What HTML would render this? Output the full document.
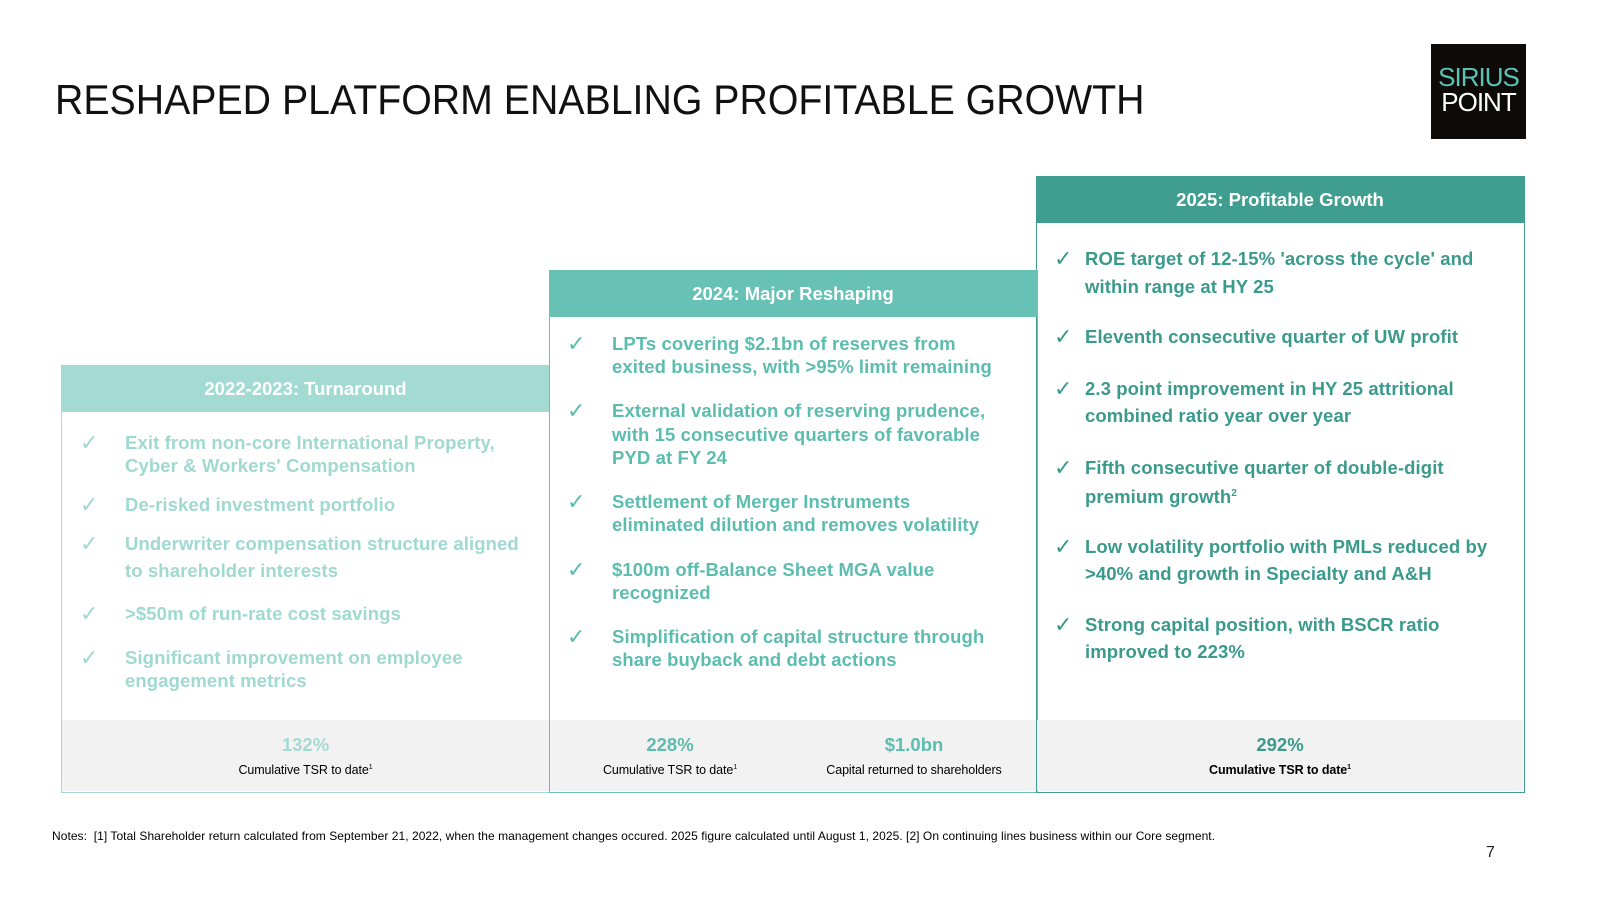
<!DOCTYPE html>
<html><head><meta charset="utf-8"><style>
html,body{margin:0;padding:0}
body{width:1600px;height:899px;background:#fff;position:relative;overflow:hidden;font-family:"Liberation Sans",sans-serif}
.a{position:absolute}
.ln{position:absolute;white-space:nowrap;font-weight:bold;font-size:18.5px;letter-spacing:0.1px;line-height:20px}
.ck{position:absolute;font-size:22px;line-height:20px}
.hd{position:absolute;color:#fff;font-weight:bold;font-size:18.5px;text-align:center;line-height:47px}
.big{position:absolute;font-weight:bold;font-size:18.5px;text-align:center}
.sm{position:absolute;font-size:12.5px;color:#000;text-align:center;letter-spacing:-0.1px}
</style></head><body>
<div class="a" style="left:55px;top:76px;font-size:42px;color:#111;white-space:nowrap;transform:scaleX(0.935);transform-origin:left">RESHAPED PLATFORM ENABLING PROFITABLE GROWTH</div>
<div class="a" style="left:1431px;top:44px;width:95px;height:95px;background:#0d0a08;text-align:center;font-size:26px;line-height:25px;padding-top:21px;box-sizing:border-box;letter-spacing:-1px">
<div style="color:#5bc2b4">SIRIUS</div><div style="color:#fff">POINT</div></div>

<div class="a" style="left:61px;top:365px;width:488px;height:426px;border:1px solid #a3dbd3;border-right:none"></div>
<div class="a" style="left:549px;top:270px;width:487px;height:521px;border:1px solid #67c1b5"></div>
<div class="a" style="left:1036px;top:176px;width:487px;height:615px;border:1px solid #3f9e8f"></div>
<div class="a" style="left:62px;top:720px;width:1461px;height:71px;background:#f2f2f2"></div>
<div class="a" style="left:549px;top:720px;width:1px;height:72px;background:#67c1b5"></div>
<div class="a" style="left:1036px;top:720px;width:1px;height:72px;background:#3f9e8f"></div>

<div class="hd" style="left:62px;top:365px;width:487px;background:#a3dbd3">2022-2023: Turnaround</div>
<div class="hd" style="left:549px;top:270px;width:488px;background:#67c1b5">2024: Major Reshaping</div>
<div class="hd" style="left:1036px;top:176px;width:488px;background:#3f9e8f">2025: Profitable Growth</div>

<div id="c1" style="color:#9fd9d0"></div>
<div id="c2" style="color:#5cbdaf"></div>
<div id="c3" style="color:#3a9a8b"></div>

<div class="big" style="left:62px;top:734px;width:487px;color:#a3dbd3">132%</div>
<div class="sm" style="left:62px;top:763px;width:487px">Cumulative TSR to date<sup style="font-size:7px">1</sup></div>
<div class="big" style="left:570px;top:734px;width:200px;color:#5cbdaf">228%</div>
<div class="sm" style="left:570px;top:763px;width:200px">Cumulative TSR to date<sup style="font-size:7px">1</sup></div>
<div class="big" style="left:814px;top:734px;width:200px;color:#5cbdaf">$1.0bn</div>
<div class="sm" style="left:794px;top:763px;width:240px">Capital returned to shareholders</div>
<div class="big" style="left:1036px;top:734px;width:488px;color:#3a9a8b">292%</div>
<div class="sm" style="left:1036px;top:763px;width:488px;font-weight:bold">Cumulative TSR to date<sup style="font-size:7px">1</sup></div>

<div class="a" style="left:52px;top:829px;font-size:12px;color:#000;white-space:nowrap;letter-spacing:0.05px">Notes:&nbsp; [1] Total Shareholder return calculated from September 21, 2022, when the management changes occured. 2025 figure calculated until August 1, 2025. [2] On continuing lines business within our Core segment.</div>
<div class="a" style="left:1486px;top:844px;font-size:16px;color:#222">7</div>

<script>
var cols=[
 {id:'c1',tx:125,cx:80,items:[[443,["Exit from non-core International Property,","Cyber & Workers' Compensation"],23],[505,["De-risked investment portfolio"],23],[544,["Underwriter compensation structure aligned","to shareholder interests"],27],[614,[">$50m of run-rate cost savings"],23],[658,["Significant improvement on employee","engagement metrics"],23]]},
 {id:'c2',tx:612,cx:567,items:[[344,["LPTs covering $2.1bn of reserves from","exited business, with >95% limit remaining"],23],[411,["External validation of reserving prudence,","with 15 consecutive quarters of favorable","PYD at FY 24"],23.5],[502,["Settlement of Merger Instruments","eliminated dilution and removes volatility"],23],[570,["$100m off-Balance Sheet MGA value","recognized"],23],[637,["Simplification of capital structure through","share buyback and debt actions"],23]]},
 {id:'c3',tx:1085,cx:1054,items:[[259,["ROE target of 12-15% 'across the cycle' and","within range at HY 25"],28],[337,["Eleventh consecutive quarter of UW profit"],28],[389,["2.3 point improvement in HY 25 attritional","combined ratio year over year"],27],[468,["Fifth consecutive quarter of double-digit","premium growth<sup style='font-size:10px'>2</sup>"],26],[547,["Low volatility portfolio with PMLs reduced by",">40% and growth in Specialty and A&H"],27],[625,["Strong capital position, with BSCR ratio","improved to 223%"],27]]}
];
cols.forEach(function(c){
 var host=document.getElementById(c.id);
 c.items.forEach(function(it,i){
  var ck=document.createElement('div');ck.className='ck';ck.textContent='✓';
  ck.style.left=c.cx+'px';ck.style.top=(it[0]-10)+'px';
  
  
  host.appendChild(ck);
  it[1].forEach(function(t,j){
   var d=document.createElement('div');d.className='ln';d.innerHTML=t;
   d.style.left=c.tx+'px';d.style.top=(it[0]-10+j*it[2])+'px';
   
   
   host.appendChild(d);
  });
 });
});
</script>
</body></html>
